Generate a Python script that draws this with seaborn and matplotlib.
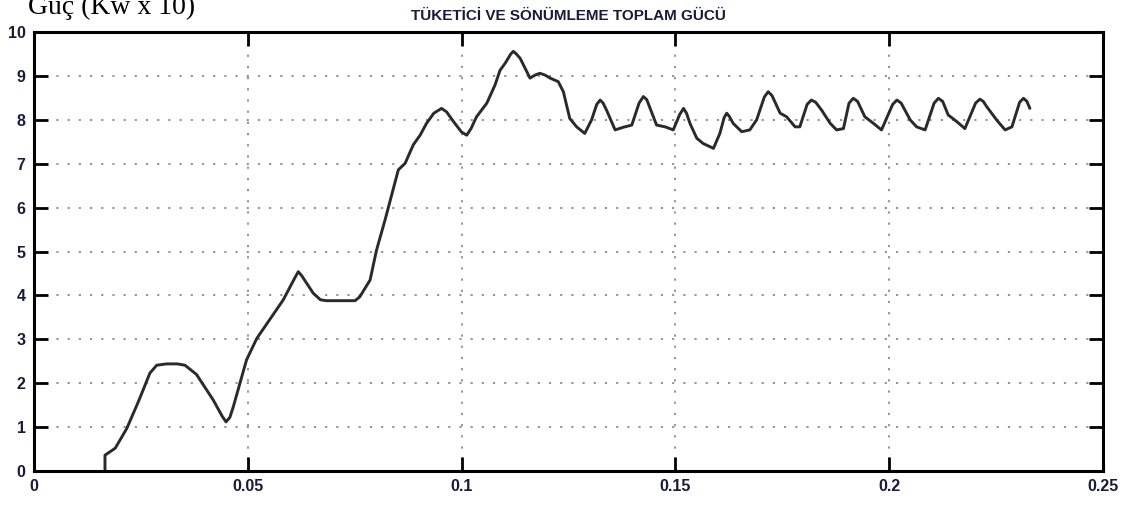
import matplotlib
matplotlib.use("Agg")
import matplotlib.pyplot as plt
import seaborn as sns
import pandas as pd

# Time (s) and total power (kW x 10)
time_s = [
    0.0166, 0.0166, 0.0190, 0.0217, 0.0245, 0.0271, 0.0287, 0.0310, 0.0335, 0.0353,
    0.0380, 0.0419, 0.0440, 0.0449, 0.0458, 0.0466, 0.0497, 0.0521, 0.0583, 0.0610,
    0.0618, 0.0626, 0.0653, 0.0670, 0.0684, 0.0751, 0.0762, 0.0786, 0.0801, 0.0821,
    0.0852, 0.0868, 0.0887, 0.0903, 0.0918, 0.0935, 0.0953, 0.0965, 0.0981, 0.1000,
    0.1012, 0.1022, 0.1035, 0.1059, 0.1078, 0.1090, 0.1102, 0.1115, 0.1121, 0.1128,
    0.1137, 0.1160, 0.1172, 0.1183, 0.1195, 0.1207, 0.1226, 0.1238, 0.1253, 0.1269,
    0.1288, 0.1304, 0.1316, 0.1324, 0.1331, 0.1339, 0.1359, 0.1378, 0.1398, 0.1415,
    0.1425, 0.1433, 0.1441, 0.1456, 0.1476, 0.1495, 0.1510, 0.1519, 0.1526, 0.1534,
    0.1550, 0.1565, 0.1589, 0.1604, 0.1614, 0.1620, 0.1626, 0.1635, 0.1655, 0.1674,
    0.1690, 0.1708, 0.1717, 0.1726, 0.1745, 0.1760, 0.1780, 0.1791, 0.1808, 0.1818,
    0.1828, 0.1842, 0.1862, 0.1877, 0.1893, 0.1906, 0.1916, 0.1926, 0.1943, 0.1963,
    0.1982, 0.2008, 0.2018, 0.2028, 0.2049, 0.2064, 0.2084, 0.2105, 0.2115, 0.2125,
    0.2138, 0.2158, 0.2177, 0.2202, 0.2212, 0.2220, 0.2228, 0.2251, 0.2271, 0.2287,
    0.2305, 0.2314, 0.2322, 0.2329,
]
power = [
    0.00, 0.36, 0.52, 0.97, 1.60, 2.23, 2.41, 2.44, 2.44, 2.41,
    2.20, 1.62, 1.25, 1.12, 1.22, 1.46, 2.53, 3.02, 3.90, 4.40,
    4.54, 4.45, 4.05, 3.90, 3.88, 3.88, 3.97, 4.35, 5.03, 5.72,
    6.86, 7.01, 7.43, 7.65, 7.92, 8.15, 8.26, 8.18, 7.96, 7.72,
    7.65, 7.80, 8.07, 8.38, 8.79, 9.13, 9.29, 9.50, 9.56, 9.50,
    9.40, 8.95, 9.02, 9.06, 9.02, 8.95, 8.87, 8.64, 8.03, 7.84,
    7.69, 8.00, 8.35, 8.45, 8.38, 8.22, 7.77, 7.83, 7.88, 8.38,
    8.53, 8.46, 8.26, 7.88, 7.84, 7.77, 8.12, 8.26, 8.15, 7.92,
    7.58, 7.46, 7.35, 7.69, 8.05, 8.15, 8.08, 7.92, 7.73, 7.77,
    8.00, 8.52, 8.64, 8.55, 8.15, 8.07, 7.84, 7.84, 8.35, 8.45,
    8.40, 8.22, 7.92, 7.77, 7.80, 8.38, 8.49, 8.42, 8.07, 7.92,
    7.77, 8.35, 8.45, 8.38, 8.00, 7.84, 7.77, 8.38, 8.49, 8.42,
    8.11, 7.96, 7.80, 8.38, 8.47, 8.42, 8.30, 8.00, 7.77, 7.84,
    8.40, 8.49, 8.42, 8.26,
]
x_ticks = [0, 0.05, 0.1, 0.15, 0.2, 0.25]
x_tick_labels = ["0", "0.05", "0.1", "0.15", "0.2", "0.25"]
y_ticks = list(range(0, 11))

df = pd.DataFrame({"t": time_s, "p": power})

sns.set_theme(style="white")
plt.rcParams["font.family"] = ["Liberation Sans", "DejaVu Sans"]

fig = plt.figure(figsize=(11.37, 5.05), dpi=100)
ax = fig.add_axes([0.0299, 0.0673, 0.9402, 0.8693])

sns.lineplot(data=df, x="t", y="p", ax=ax, sort=False, estimator=None,
             color="#2a2a2a", linewidth=2.1, solid_joinstyle="round",
             solid_capstyle="round")

ax.set_xlim(0, 0.25)
ax.set_ylim(0, 10)
ax.set_xticks(x_ticks)
ax.set_xticklabels(x_tick_labels)
ax.set_yticks(y_ticks)
ax.set_xlabel("")
ax.set_ylabel("")

ax.grid(True, color="#8a8a8a", linestyle=(0, (1.2, 5)), linewidth=1.3)
for s in ax.spines.values():
    s.set_color("black")
    s.set_linewidth(2.2)
ax.tick_params(direction="in", length=10, width=2, color="black",
               top=True, right=True, bottom=True, left=True,
               labelsize=11.5, labelcolor="#1a1a3a", pad=6)
for lab in ax.get_xticklabels() + ax.get_yticklabels():
    lab.set_fontweight("bold")

ax.set_title("TÜKETİCİ VE SÖNÜMLEME TOPLAM GÜCÜ", fontsize=11,
             fontweight="bold", color="#1a1a3a", pad=9)

fig.text(0.025, 0.972, "Güç (Kw x 10)", family=["Liberation Serif", "DejaVu Serif"],
         fontsize=20, color="black", ha="left", va="baseline")

fig.savefig("out.png", dpi=100, facecolor="white")
